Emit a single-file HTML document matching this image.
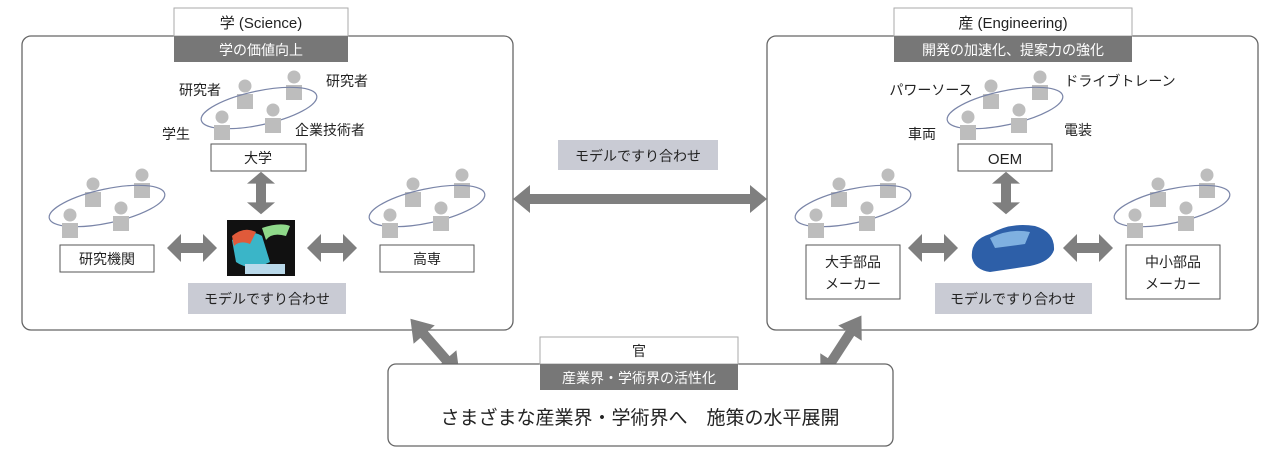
<!DOCTYPE html>
<html><head><meta charset="utf-8"><style>
body{margin:0;background:#fff}
svg text{font-family:"Liberation Sans","Noto Sans CJK JP",sans-serif;fill:#222}
</style></head><body>
<svg width="1280" height="467" viewBox="0 0 1280 467" xmlns="http://www.w3.org/2000/svg">
<defs>
<g id="p"><circle cx="0" cy="0" r="6.5" fill="#bdbdbd"/><rect x="-8" y="8" width="16" height="15" fill="#bdbdbd"/></g>
<g id="grp">
<use href="#p" x="-14" y="-22"/><use href="#p" x="35" y="-31"/>
<ellipse cx="0" cy="0" rx="59" ry="17" transform="rotate(-12)" fill="none" stroke="#7a85a8" stroke-width="1.2"/>
<use href="#p" x="-37" y="9"/><use href="#p" x="14" y="2"/>
</g>
<path id="a" d="M-25,0 L-11,-14 L-11,-5 L11,-5 L11,-14 L25,0 L11,14 L11,5 L-11,5 L-11,14Z" fill="#7f7f7f"/>
</defs>

<!-- Left panel -->
<rect x="22" y="36" width="491" height="294" rx="9" fill="none" stroke="#666" stroke-width="1.3"/>
<rect x="174" y="8" width="174" height="28" fill="#fff" stroke="#aaa"/>
<text x="261" y="28" font-size="15" text-anchor="middle">学 (Science)</text>
<rect x="174" y="36" width="174" height="26" fill="#777"/>
<text x="261" y="55" font-size="14" text-anchor="middle" style="fill:#fff">学の価値向上</text>
<use href="#grp" x="259" y="108"/>
<text x="200" y="95" font-size="14" text-anchor="middle">研究者</text>
<text x="347" y="86" font-size="14" text-anchor="middle">研究者</text>
<text x="176" y="139" font-size="14" text-anchor="middle">学生</text>
<text x="330" y="135" font-size="14" text-anchor="middle">企業技術者</text>
<rect x="211" y="144" width="95" height="27" fill="#fff" stroke="#555"/>
<text x="258" y="163" font-size="14" text-anchor="middle">大学</text>
<use href="#a" transform="translate(261,193) rotate(90) scale(0.85,1)"/>
<rect x="227" y="220" width="68" height="56" fill="#111"/>
<path d="M232,240 Q250,228 262,236 L270,262 Q250,272 236,262Z" fill="#3ab5c8"/>
<path d="M232,236 Q244,226 256,232 L250,244 Q240,240 234,246Z" fill="#e05a3a"/>
<path d="M262,228 Q280,222 290,226 L286,236 Q272,232 266,240Z" fill="#8fd98a"/>
<rect x="245" y="264" width="40" height="10" fill="#b9d9ea"/>
<rect x="60" y="245" width="94" height="27" fill="#fff" stroke="#555"/>
<text x="107" y="264" font-size="14" text-anchor="middle">研究機関</text>
<rect x="380" y="245" width="94" height="27" fill="#fff" stroke="#555"/>
<text x="427" y="264" font-size="14" text-anchor="middle">高専</text>
<use href="#a" x="192" y="248"/>
<use href="#a" x="332" y="248"/>
<use href="#grp" x="107" y="206"/>
<use href="#grp" x="427" y="206"/>
<rect x="188" y="283" width="158" height="31" fill="#c9cbd4"/>
<text x="267" y="304" font-size="14" text-anchor="middle">モデルですり合わせ</text>

<!-- Right panel -->
<rect x="767" y="36" width="491" height="294" rx="9" fill="none" stroke="#666" stroke-width="1.3"/>
<rect x="894" y="8" width="238" height="28" fill="#fff" stroke="#aaa"/>
<text x="1013" y="28" font-size="15" text-anchor="middle">産 (Engineering)</text>
<rect x="894" y="36" width="238" height="26" fill="#777"/>
<text x="1013" y="55" font-size="14" text-anchor="middle" style="fill:#fff">開発の加速化、提案力の強化</text>
<use href="#grp" x="1005" y="108"/>
<text x="931" y="95" font-size="14" text-anchor="middle">パワーソース</text>
<text x="1120" y="86" font-size="14" text-anchor="middle">ドライブトレーン</text>
<text x="922" y="139" font-size="14" text-anchor="middle">車両</text>
<text x="1078" y="135" font-size="14" text-anchor="middle">電装</text>
<rect x="958" y="144" width="94" height="27" fill="#fff" stroke="#555"/>
<text x="1005" y="164" font-size="15" text-anchor="middle">OEM</text>
<use href="#a" transform="translate(1006,193) rotate(90) scale(0.85,1)"/>
<path d="M972,258 Q970,240 990,234 Q1010,222 1035,226 Q1055,232 1054,250 Q1050,262 1030,266 L990,272 Q975,270 972,258Z" fill="#2d5fa8"/>
<path d="M990,238 Q1010,228 1030,232 L1025,244 L995,248Z" fill="#7fb0e0"/>
<use href="#a" x="933" y="248"/>
<use href="#a" x="1088" y="248"/>
<rect x="806" y="245" width="94" height="54" fill="#fff" stroke="#555"/>
<text x="853" y="267" font-size="14" text-anchor="middle">大手部品</text>
<text x="853" y="289" font-size="14" text-anchor="middle">メーカー</text>
<rect x="1126" y="245" width="94" height="54" fill="#fff" stroke="#555"/>
<text x="1173" y="267" font-size="14" text-anchor="middle">中小部品</text>
<text x="1173" y="289" font-size="14" text-anchor="middle">メーカー</text>
<use href="#grp" x="853" y="206"/>
<use href="#grp" x="1172" y="206"/>
<rect x="935" y="283" width="157" height="31" fill="#c9cbd4"/>
<text x="1013" y="304" font-size="14" text-anchor="middle">モデルですり合わせ</text>

<!-- Center -->
<rect x="558" y="140" width="160" height="30" fill="#c9cbd4"/>
<text x="638" y="161" font-size="14" text-anchor="middle">モデルですり合わせ</text>
<path d="M513,199 L530,185 L530,194 L750,194 L750,185 L767,199 L750,213 L750,204 L530,204 L530,213Z" fill="#7f7f7f"/>
<use href="#a" transform="translate(435,347) rotate(49) scale(1.5,1)"/>
<use href="#a" transform="translate(841,347) rotate(123) scale(1.5,1)"/>

<!-- Bottom -->
<rect x="388" y="364" width="505" height="82" rx="8" fill="#fff" stroke="#666" stroke-width="1.3"/>
<rect x="540" y="337" width="198" height="27" fill="#fff" stroke="#aaa"/>
<text x="639" y="356" font-size="14" text-anchor="middle">官</text>
<rect x="540" y="364" width="198" height="26" fill="#777"/>
<text x="639" y="383" font-size="14" text-anchor="middle" style="fill:#fff">産業界・学術界の活性化</text>
<text x="640" y="424" font-size="19" text-anchor="middle" xml:space="preserve">さまざまな産業界・学術界へ　施策の水平展開</text>
</svg>
</body></html>
